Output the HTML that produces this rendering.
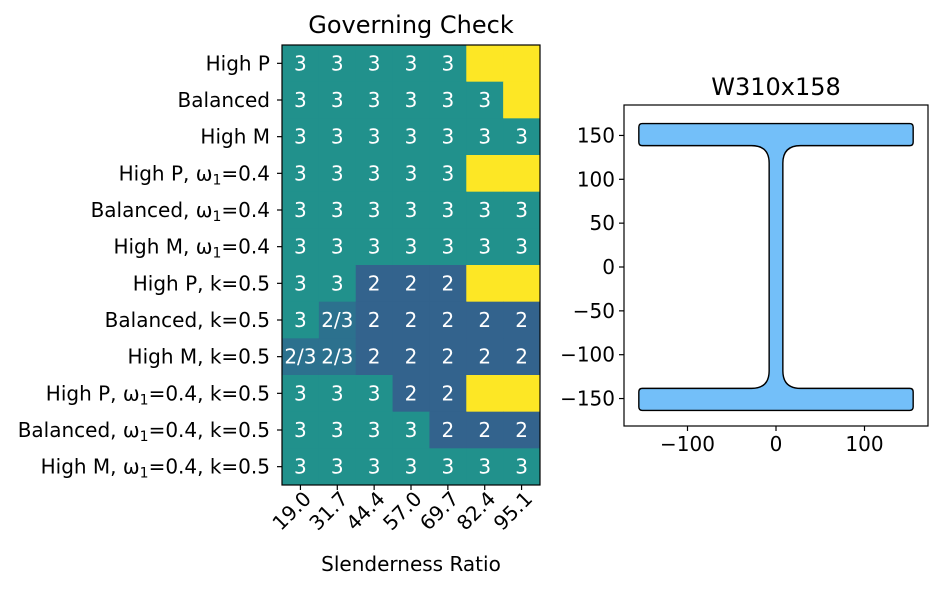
<!DOCTYPE html>
<html><head><meta charset="utf-8"><style>
body{margin:0;background:#fff;width:942px;height:589px;overflow:hidden;font-family:"Liberation Sans","DejaVu Sans",sans-serif}
</style></head><body>
<svg id="s" width="942" height="589" xmlns="http://www.w3.org/2000/svg" font-family="DejaVu Sans, Liberation Sans, sans-serif">
<g id="hm"></g>
<g id="sec"></g>
</svg>
<script>
const cols=["19.0","31.7","44.4","57.0","69.7","82.4","95.1"];
const rowsLbl=["High P","Balanced","High M","High P, ω|1|=0.4","Balanced, ω|1|=0.4","High M, ω|1|=0.4","High P, k=0.5","Balanced, k=0.5","High M, k=0.5","High P, ω|1|=0.4, k=0.5","Balanced, ω|1|=0.4, k=0.5","High M, ω|1|=0.4, k=0.5"];
const cells=[
["3","3","3","3","3","",""],
["3","3","3","3","3","3",""],
["3","3","3","3","3","3","3"],
["3","3","3","3","3","",""],
["3","3","3","3","3","3","3"],
["3","3","3","3","3","3","3"],
["3","3","2","2","2","",""],
["3","2/3","2","2","2","2","2"],
["2/3","2/3","2","2","2","2","2"],
["3","3","3","2","2","",""],
["3","3","3","3","2","2","2"],
["3","3","3","3","3","3","3"]];
const colorMap={"3":"#21918c","2":"#33638d","2/3":"#2c718e","":"#fde725"};
// section W310x158 (mm)
const secD=327, secBf=310, secTf=25.1, secTw=15.5, secR=20;
const xTicks=[-100,0,100], yTicks=[150,100,50,0,-50,-100,-150];

const FS=20;
const NS="http://www.w3.org/2000/svg";
function mk(p,t,a,txt){const e=document.createElementNS(NS,t);for(const k in a)e.setAttribute(k,a[k]);if(txt!=null)e.textContent=txt;p.appendChild(e);return e;}
const hm=document.getElementById('hm');
const L=282,T=45,R=540,B=485,cw=(R-L)/cols.length,rh=(B-T)/rowsLbl.length;
mk(hm,'text',{x:(L+R)/2,y:33,'text-anchor':'middle','font-size':24},'Governing Check');
cells.forEach((row,i)=>row.forEach((v,j)=>{
 const r=mk(hm,'rect',{x:L+j*cw,y:T+i*rh,width:cw+0.5,height:rh+0.5,fill:colorMap[v]});
 
 
 if(v){const t=mk(hm,'text',{x:L+(j+.5)*cw,y:T+(i+.5)*rh+7,'text-anchor':'middle','font-size':FS,fill:'#fff'},v);
 
 }
}));
mk(hm,'rect',{x:L,y:T,width:R-L,height:B-T,fill:'none',stroke:'#000','stroke-width':1.2});
rowsLbl.forEach((l,i)=>{const y=T+(i+.5)*rh;
 mk(hm,'line',{x1:L-5,x2:L,y1:y,y2:y,stroke:'#000','stroke-width':1.2});
 const parts=l.split('|');
 const t=mk(hm,'text',{x:L-12,y:y+7,'text-anchor':'end','font-size':FS});
 
 
 parts.forEach((p,k)=>{mk(t,'tspan',k==1?{'font-size':14,dy:4}:(k==2?{dy:-4}:{}),p);});
});
cols.forEach((c,j)=>{const x=L+(j+.5)*cw;
 mk(hm,'line',{x1:x,x2:x,y1:B,y2:B+5,stroke:'#000','stroke-width':1.2});
 const ax=x+12, ay=B+15;
 const t=mk(hm,'text',{x:ax,y:ay,'text-anchor':'end','font-size':FS,transform:`rotate(-45 ${ax} ${ay})`},c);
 
 
});
mk(hm,'text',{x:(L+R)/2,y:571,'text-anchor':'middle','font-size':FS},'Slenderness Ratio');

// section
const sg=document.getElementById('sec');
const aL=624,aR=928,aT=105,aB=426,x0=776,y0=267,sx=0.885,sy=0.877;
const X=v=>x0+v*sx, Y=v=>y0-v*sy;
mk(sg,'text',{x:(aL+aR)/2,y:95,'text-anchor':'middle','font-size':24},'W310x158');
const h=secD/2,b=secBf/2,w=secTw/2,fi=h-secTf,c=4;
const d=[`M${X(-b+c)},${Y(h)}`,`L${X(b-c)},${Y(h)}`,`Q${X(b)},${Y(h)} ${X(b)},${Y(h-c)}`,`L${X(b)},${Y(fi+c)}`,`Q${X(b)},${Y(fi)} ${X(b-c)},${Y(fi)}`,
`L${X(w+secR)},${Y(fi)}`,`Q${X(w)},${Y(fi)} ${X(w)},${Y(fi-secR)}`,`L${X(w)},${Y(-fi+secR)}`,`Q${X(w)},${Y(-fi)} ${X(w+secR)},${Y(-fi)}`,
`L${X(b-c)},${Y(-fi)}`,`Q${X(b)},${Y(-fi)} ${X(b)},${Y(-fi-c)}`,`L${X(b)},${Y(-h+c)}`,`Q${X(b)},${Y(-h)} ${X(b-c)},${Y(-h)}`,
`L${X(-b+c)},${Y(-h)}`,`Q${X(-b)},${Y(-h)} ${X(-b)},${Y(-h+c)}`,`L${X(-b)},${Y(-fi-c)}`,`Q${X(-b)},${Y(-fi)} ${X(-b+c)},${Y(-fi)}`,
`L${X(-w-secR)},${Y(-fi)}`,`Q${X(-w)},${Y(-fi)} ${X(-w)},${Y(-fi+secR)}`,`L${X(-w)},${Y(fi-secR)}`,`Q${X(-w)},${Y(fi)} ${X(-w-secR)},${Y(fi)}`,
`L${X(-b+c)},${Y(fi)}`,`Q${X(-b)},${Y(fi)} ${X(-b)},${Y(fi+c)}`,`L${X(-b)},${Y(h-c)}`,`Q${X(-b)},${Y(h)} ${X(-b+c)},${Y(h)}`,'Z'].join(' ');
const p=mk(sg,'path',{d:d,fill:'#73bff9',stroke:'#000','stroke-width':1.4});


mk(sg,'rect',{x:aL,y:aT,width:aR-aL,height:aB-aT,fill:'none',stroke:'#000','stroke-width':1.2});
xTicks.forEach(v=>{mk(sg,'line',{x1:X(v),x2:X(v),y1:aB,y2:aB+5,stroke:'#000','stroke-width':1.2});
 const t=mk(sg,'text',{x:X(v),y:aB+25,'text-anchor':'middle','font-size':FS},v<0?'−'+(-v):v);
 
 });
yTicks.forEach(v=>{mk(sg,'line',{x1:aL-5,x2:aL,y1:Y(v),y2:Y(v),stroke:'#000','stroke-width':1.2});
 const t=mk(sg,'text',{x:aL-9,y:Y(v)+7,'text-anchor':'end','font-size':FS},v<0?'−'+(-v):v);
 
 });
</script>
</body></html>
